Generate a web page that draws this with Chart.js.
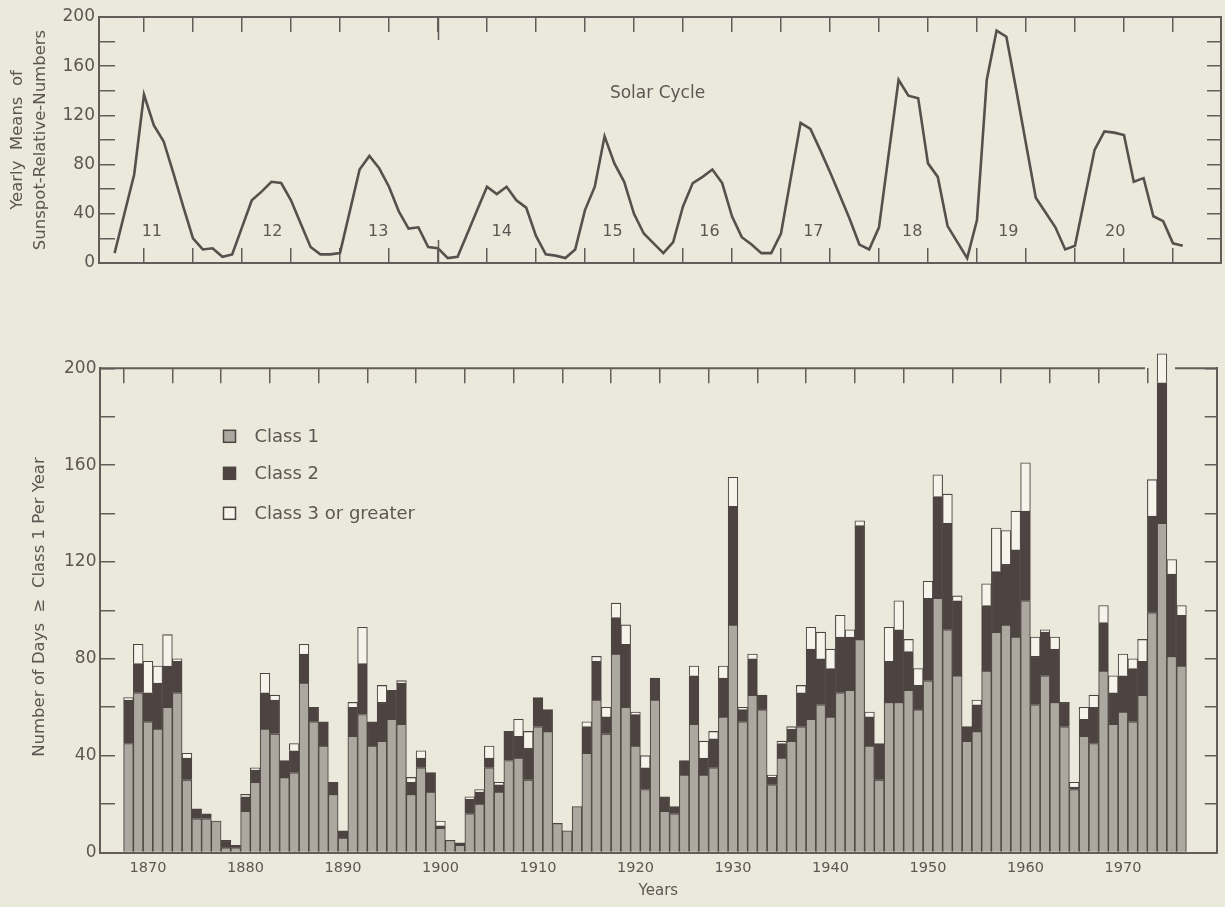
<!DOCTYPE html>
<html>
<head>
<meta charset="utf-8">
<script src="https://cdn.jsdelivr.net/npm/chart.js@4.4.1/dist/chart.umd.min.js"></script>
<style>
  body { margin: 0; background: #ebe9dc; }
  #page { position: relative; width: 1225px; height: 907px; overflow: hidden; }
  canvas { position: absolute; left: 0; }
</style>
</head>
<body>
<div id="page">
  <canvas id="sunspots" width="1225" height="300" style="top:0"></canvas>
  <canvas id="days" width="1225" height="577" style="top:330px"></canvas>
</div>
<script>
// yearly means of sunspot relative numbers, 1867-1976
const firstSunspotYear = 1867;
const sunspotMeans = [
  8, 40, 72, 137, 112, 99, 73, 46, 20, 11,
  12, 5, 7, 29, 51, 58, 66, 65, 51, 32,
  13, 7, 7, 8, 42, 76, 87, 77, 62, 42,
  28, 29, 13, 12, 4, 5, 24, 43, 62, 56,
  62, 51, 45, 22, 7, 6, 4, 11, 43, 62,
  103, 81, 66, 40, 24, 16, 8, 17, 46, 65,
  70, 76, 65, 38, 21, 15, 8, 8, 24, 69,
  114, 109, 92, 74, 55, 36, 15, 11, 29, 89,
  149, 136, 134, 81, 70, 30, 17, 4, 35, 149,
  189, 184, 141, 97, 53, 41, 29, 11, 14, 53,
  92, 107, 106, 104, 66, 69, 38, 34, 16, 14
];
const cycleNumbers = ['11', '12', '13', '14', '15', '16', '17', '18', '19', '20'];

// days per year >= class 1, split by class, 1868-1976
const firstDayYear = 1868;
const class1Days = [
  45, 66, 54, 51, 60, 66, 30, 14, 14, 13,
  2, 2, 17, 29, 51, 49, 31, 33, 70, 54,
  44, 24, 6, 48, 57, 44, 46, 55, 53, 24,
  35, 25, 10, 5, 3, 16, 20, 35, 25, 38,
  39, 30, 52, 50, 12, 9, 19, 41, 63, 49,
  82, 60, 44, 26, 63, 17, 16, 32, 53, 32,
  35, 56, 94, 54, 65, 59, 28, 39, 46, 52,
  55, 61, 56, 66, 67, 88, 44, 30, 62, 62,
  67, 59, 71, 105, 92, 73, 46, 50, 75, 91,
  94, 89, 104, 61, 73, 62, 52, 26, 48, 45,
  75, 53, 58, 54, 65, 99, 136, 81, 77
];
const class2Days = [
  18, 12, 12, 19, 17, 13, 9, 4, 2, 0,
  3, 1, 6, 5, 15, 14, 7, 9, 12, 6,
  10, 5, 3, 12, 21, 10, 16, 12, 17, 5,
  4, 8, 1, 0, 1, 6, 5, 4, 3, 12,
  9, 13, 12, 9, 0, 0, 0, 11, 16, 7,
  15, 26, 13, 9, 9, 6, 3, 6, 20, 7,
  12, 16, 49, 5, 15, 6, 3, 6, 5, 14,
  29, 19, 20, 23, 22, 47, 12, 15, 17, 30,
  16, 10, 34, 42, 44, 31, 6, 11, 27, 25,
  25, 36, 37, 20, 18, 22, 10, 1, 7, 15,
  20, 13, 15, 22, 14, 40, 58, 34, 21
];
const class3Days = [
  1, 8, 13, 7, 13, 1, 2, 0, 0, 0,
  0, 0, 1, 1, 8, 2, 0, 3, 4, 0,
  0, 0, 0, 2, 15, 0, 7, 0, 1, 2,
  3, 0, 2, 0, 0, 1, 1, 5, 1, 0,
  7, 7, 0, 0, 0, 0, 0, 2, 2, 4,
  6, 8, 1, 5, 0, 0, 0, 0, 4, 7,
  3, 5, 12, 1, 2, 0, 1, 1, 1, 3,
  9, 11, 8, 9, 3, 2, 2, 0, 14, 12,
  5, 7, 7, 9, 12, 2, 0, 2, 9, 18,
  14, 16, 20, 8, 1, 5, 0, 2, 5, 5,
  7, 7, 9, 4, 9, 15, 12, 6, 4
];
const classLabels = ['Class 1', 'Class 2', 'Class 3 or greater'];

// tick values
const valueTicks = [0, 20, 40, 60, 80, 100, 120, 140, 160, 180, 200];
const fiveYearTicks = [1870, 1875, 1880, 1885, 1890, 1895, 1900, 1905, 1910, 1915, 1920,
  1925, 1930, 1935, 1940, 1945, 1950, 1955, 1960, 1965, 1970, 1975];
const decadeTicks = [1870, 1880, 1890, 1900, 1910, 1920, 1930, 1940, 1950, 1960, 1970];

const FONT = "'DejaVu Sans', 'Liberation Sans', sans-serif";
const TEXT = '#5d5652';
const FRAME = '#645c58';
const INK = '#4d4441';
const GRAY = '#aca89f';
const PAPER = '#f5f3ea';

Chart.defaults.font.family = FONT;
Chart.defaults.color = TEXT;

function fixedTicks(values) {
  return scale => { scale.ticks = values.map(v => ({ value: v })); };
}

// the frame is laid out by the canvas padding, so axes take no room of their own
function fixSize(size) {
  return s => {
    if (s.isHorizontal()) s.height = size; else s.width = size;
    s.paddingTop = 0; s.paddingBottom = 0; s.paddingLeft = 0; s.paddingRight = 0;
  };
}

function edgeAxis(position, min, max, ticks, tickLength) {
  return {
    type: 'linear', position, min, max, offset: false,
    afterFit: fixSize(0),
    afterBuildTicks: fixedTicks(ticks),
    ticks: { display: false },
    grid: { drawOnChartArea: false, tickLength, color: FRAME, lineWidth: 1.5 },
    border: { color: FRAME, width: 2 }
  };
}

// ---------- top: sunspot numbers ----------
const sunspotYears = sunspotMeans.map((_, i) => firstSunspotYear + i);
const cycleLabelYears = [1870.8, 1883.1, 1893.9, 1906.5, 1917.8, 1927.7, 1938.3, 1948.4, 1958.2, 1969.1];

const sunspotNotes = {
  id: 'sunspotNotes',
  afterDraw(chart) {
    const { ctx, chartArea, scales: { x, y } } = chart;
    ctx.save();
    ctx.fillStyle = TEXT;
    ctx.textAlign = 'center';
    ctx.textBaseline = 'middle';
    ctx.font = '17px ' + FONT;
    ctx.fillText('Solar Cycle', x.getPixelForValue(1922.4), y.getPixelForValue(137.4));
    ctx.font = '16px ' + FONT;
    cycleNumbers.forEach((n, i) => {
      ctx.fillText(n, x.getPixelForValue(cycleLabelYears[i]), y.getPixelForValue(25.6));
    });
    // the century tick is drawn longer
    const px = Math.round(x.getPixelForValue(1900)) + 0.5;
    ctx.strokeStyle = FRAME;
    ctx.lineWidth = 1.5;
    ctx.beginPath();
    ctx.moveTo(px, chartArea.top); ctx.lineTo(px, chartArea.top + 23);
    ctx.moveTo(px, chartArea.bottom); ctx.lineTo(px, chartArea.bottom - 23);
    ctx.stroke();
    ctx.restore();
  }
};

new Chart(document.getElementById('sunspots'), {
  type: 'line',
  data: {
    datasets: [{
      data: sunspotMeans.map((v, i) => ({ x: sunspotYears[i], y: v })),
      borderColor: '#57504c',
      borderWidth: 2.6,
      pointRadius: 0,
      tension: 0,
      fill: false
    }]
  },
  options: {
    responsive: false,
    animation: false,
    events: [],
    layout: { padding: { top: 17, right: 4, bottom: 37, left: 0 } },
    plugins: { legend: { display: false }, tooltip: { enabled: false } },
    scales: {
      x: edgeAxis('bottom', 1865.41, 1979.9, fiveYearTicks, -15),
      xTop: edgeAxis('top', 1865.41, 1979.9, fiveYearTicks, -15),
      y: {
        min: 0, max: 200,
        afterFit: fixSize(99),
        afterBuildTicks: fixedTicks(valueTicks),
        ticks: { padding: 20, font: { size: 17 }, color: TEXT, callback: v => (v % 40 === 0 ? String(v) : '') },
        grid: { drawOnChartArea: false, tickLength: -16, color: FRAME, lineWidth: 1.5 },
        border: { color: FRAME, width: 2 },
        title: {
          display: true,
          text: ['Yearly  Means  of', 'Sunspot-Relative-Numbers'],
          font: { size: 16.5, lineHeight: 1.4 },
          color: TEXT,
          padding: { top: 6, bottom: 0 }
        }
      },
      yRight: edgeAxis('right', 0, 200, valueTicks, -14)
    }
  },
  plugins: [sunspotNotes]
});

// ---------- bottom: days per year by class ----------
const dayYears = class1Days.map((_, i) => firstDayYear + i);
const classColors = [GRAY, INK, PAPER];

const daysNotes = {
  id: 'daysNotes',
  beforeDatasetsDraw(chart) {
    // top frame, broken where a bar runs past the top of the scale
    const { ctx, chartArea, scales: { x, y } } = chart;
    const gaps = [];
    dayYears.forEach((yr, i) => {
      if (class1Days[i] + class2Days[i] + class3Days[i] > y.max) {
        const px = x.getPixelForValue(yr);
        gaps.push([px - 17, px + 13]);
      }
    });
    ctx.save();
    ctx.strokeStyle = FRAME;
    ctx.lineWidth = 2;
    ctx.beginPath();
    let start = chartArea.left - 1;
    gaps.forEach(([a, b]) => { ctx.moveTo(start, chartArea.top); ctx.lineTo(a, chartArea.top); start = b; });
    ctx.moveTo(start, chartArea.top);
    ctx.lineTo(chartArea.right + 1, chartArea.top);
    ctx.stroke();
    ctx.restore();
  },
  afterDraw(chart) {
    const { ctx, chartArea } = chart;
    ctx.save();
    // legend
    const rows = [68, 105, 145];
    ctx.font = '18px ' + FONT;
    ctx.textBaseline = 'middle';
    ctx.textAlign = 'left';
    classLabels.forEach((label, i) => {
      const cx = chartArea.left + 129.5;
      const cy = chartArea.top + rows[i];
      ctx.fillStyle = classColors[i];
      ctx.fillRect(cx - 6, cy - 6, 12, 12);
      ctx.strokeStyle = INK;
      ctx.lineWidth = 1.5;
      ctx.strokeRect(cx - 6, cy - 6, 12, 12);
      ctx.fillStyle = TEXT;
      ctx.fillText(label, cx + 25, cy + 1);
    });
    // y-axis title
    ctx.translate(40, 277);
    ctx.rotate(-Math.PI / 2);
    ctx.textAlign = 'center';
    ctx.font = '16.5px ' + FONT;
    ctx.fillText('Number of Days  \u2265  Class 1 Per Year', 0, 0);
    ctx.restore();
  }
};

const classData = [class1Days, class2Days, class3Days];

new Chart(document.getElementById('days'), {
  type: 'bar',
  data: {
    datasets: classData.map((values, k) => ({
      label: classLabels[k],
      data: values.map((v, i) => ({ x: dayYears[i], y: v })),
      backgroundColor: classColors[k],
      borderColor: INK,
      borderWidth: 1.1,
      clip: false,
      barPercentage: 1,
      categoryPercentage: 1
    }))
  },
  options: {
    responsive: false,
    animation: false,
    events: [],
    layout: { padding: { top: 38.3, right: 8.3, bottom: 0, left: 0 } },
    plugins: { legend: { display: false }, tooltip: { enabled: false } },
    scales: {
      x: {
        type: 'linear', position: 'bottom', stacked: true, offset: false, z: 1,
        min: 1865.08, max: 1979.61,
        afterFit: fixSize(54.5),
        afterBuildTicks: fixedTicks(decadeTicks),
        ticks: { padding: 21, font: { size: 14.5 }, color: TEXT, callback: v => String(v) },
        grid: { drawOnChartArea: false, tickLength: -14, color: INK, lineWidth: 1 },
        border: { color: FRAME, width: 2 },
        title: { display: true, text: 'Years', font: { size: 15 }, color: TEXT, padding: { top: 0, bottom: 7 } }
      },
      xTop: {
        type: 'linear', position: 'top', min: 1865.08, max: 1979.61, offset: false,
        afterFit: fixSize(0),
        afterBuildTicks: fixedTicks(fiveYearTicks.filter(v => v <= 1970)),
        ticks: { display: false },
        grid: { drawOnChartArea: false, tickLength: -15, color: FRAME, lineWidth: 1.5 },
        border: { display: false }
      },
      y: {
        stacked: true, min: 0, max: 200,
        afterFit: fixSize(100),
        afterBuildTicks: fixedTicks(valueTicks),
        ticks: { padding: 18.5, font: { size: 17 }, color: TEXT, callback: v => (v % 40 === 0 ? String(v) : '') },
        grid: { drawOnChartArea: false, tickLength: -15, color: FRAME, lineWidth: 1.5 },
        border: { color: FRAME, width: 2 }
      },
      yRight: edgeAxis('right', 0, 200, valueTicks, -12)
    }
  },
  plugins: [daysNotes]
});
</script>
</body>
</html>
